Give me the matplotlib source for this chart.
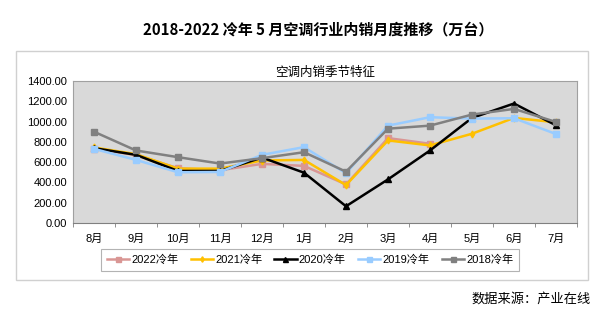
import matplotlib.pyplot as plt
import numpy as np
from matplotlib.patches import Rectangle

plt.rcParams['font.family'] = ['Liberation Sans', 'Noto Sans CJK SC', 'DejaVu Sans']

months = ['8月', '9月', '10月', '11月', '12月', '1月', '2月', '3月', '4月', '5月', '6月', '7月']
y2022 = [733, 670, 540, 520, 583, 563, 380, 837, 781]
y2021 = [745, 678, 536, 536, 616, 622, 374, 814, 765, 880, 1036, 993]
y2020 = [738, 672, 513, 513, 645, 496, 165, 430, 715, 1036, 1178, 963]
y2019 = [731, 622, 500, 503, 672, 748, 490, 960, 1043, 1029, 1033, 877]
y2018 = [900, 715, 649, 586, 639, 698, 506, 930, 960, 1069, 1125, 996]

series = [
    ('2022冷年', y2022, '#D99694', 's'),
    ('2021冷年', y2021, '#FFC000', 'd'),
    ('2020冷年', y2020, '#000000', '^'),
    ('2019冷年', y2019, '#99CCFF', 's'),
    ('2018冷年', y2018, '#808080', 's'),
]

fig = plt.figure(figsize=(6, 3.25), dpi=100)

# outer chart frame
fig.patches.append(Rectangle((16 / 600, 1 - 280 / 325), (588 - 16) / 600, (280 - 51) / 325,
                             transform=fig.transFigure, fill=False, edgecolor='#D0D0D0', lw=1))

ax = fig.add_axes([73 / 600, 1 - 223 / 325, (577 - 73) / 600, (223 - 81) / 325])
ax.set_facecolor('#D9D9D9')

x = np.arange(len(months))
for label, vals, color, marker in series:
    ax.plot(x[:len(vals)], vals, color=color, lw=1.8, marker=marker,
            markersize=4.5 if marker != 'd' else 3.5, label=label)

ax.set_xlim(-0.5, len(months) - 0.5)
ax.set_ylim(0, 1400)
ax.set_yticks(np.arange(0, 1401, 200))
ax.set_yticklabels([f'{v:.2f}' for v in np.arange(0, 1401, 200)], fontsize=8)
ax.set_xticks(x)
ax.set_xticklabels(months, fontsize=8)
ax.set_xticks(np.arange(-0.5, len(months), 1), minor=True)
ax.tick_params(axis='x', which='major', length=0, pad=8)
ax.tick_params(axis='x', which='minor', length=3, color='#808080')
ax.tick_params(axis='y', length=0, pad=4)
for s in ax.spines.values():
    s.set_color('#A0A0A0')
ax.spines['bottom'].set_color('#808080')

fig.text(318 / 600, 1 - 29 / 325, '2018-2022 冷年 5 月空调行业内销月度推移（万台）',
         ha='center', va='center', fontsize=10.8, fontweight='bold',
         family=['Noto Sans CJK SC', 'DejaVu Sans'])
fig.text(325 / 600, 1 - 73 / 325, '空调内销季节特征', ha='center', va='center', fontsize=9)
fig.text(591 / 600, 1 - 299 / 325, '数据来源：产业在线', ha='right', va='center', fontsize=9.5,
         family=['Noto Sans CJK SC', 'DejaVu Sans'])

leg = fig.legend(loc='center', bbox_to_anchor=(310 / 600, 1 - 260 / 325), ncol=5, fontsize=8,
                 frameon=True, fancybox=False, handlelength=2.0, columnspacing=1.1,
                 handletextpad=0.2, borderpad=0.5, markerscale=0.8)
leg.get_frame().set_edgecolor('#A0A0A0')
leg.get_frame().set_linewidth(0.8)

plt.savefig('out.png', dpi=100)
